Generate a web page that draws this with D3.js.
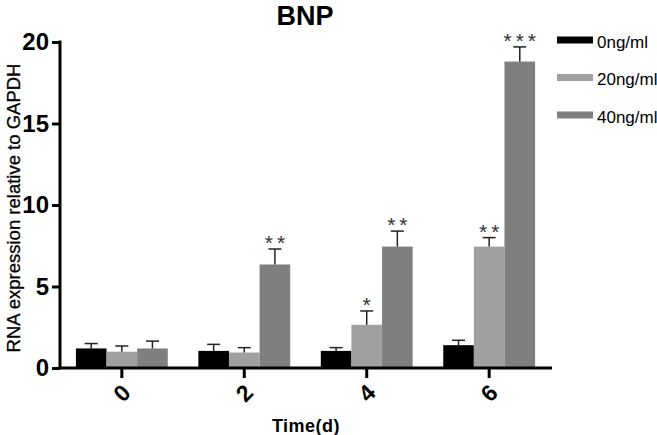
<!DOCTYPE html>
<html>
<head>
<meta charset="utf-8">
<script src="https://cdn.jsdelivr.net/npm/d3@7"></script>
<style>
  body { margin: 0; background: #fff; }
  svg { display: block; font-family: "Liberation Sans", Arial, sans-serif; }
</style>
</head>
<body>
<div id="chart"></div>
<script>
// data
const days = ["0", "2", "4", "6"];
const doses = ["0ng/ml", "20ng/ml", "40ng/ml"];
const mean0 = [1.2, 1.05, 1.05, 1.4];
const mean20 = [1.0, 0.95, 2.65, 7.45];
const mean40 = [1.2, 6.35, 7.45, 18.8];
const err0 = [0.3, 0.4, 0.2, 0.3];
const err20 = [0.35, 0.3, 0.85, 0.55];
const err40 = [0.45, 0.95, 0.95, 0.9];
const stars40 = ["", "**", "**", "***"];
const stars20 = ["", "", "*", "**"];
const stars0 = ["", "", "", ""];
const yTicks = [0, 5, 10, 15, 20];
const colors = ["#000000", "#a0a0a0", "#7f7f7f"];

const width = 657, height = 435;
const svg = d3.select("#chart").append("svg")
    .attr("width", width)
    .attr("height", height);

const means = [mean0, mean20, mean40];
const errs = [err0, err20, err40];
const stars = [stars0, stars20, stars40];

const x = d3.scaleBand()
    .domain(days)
    .range([60, 551])
    .paddingInner(0.25)
    .paddingOuter(0.13);

const xs = d3.scaleBand()
    .domain(doses)
    .range([0, x.bandwidth()]);

const y = d3.scaleLinear()
    .domain([0, 20])
    .range([368, 42]);

// bars + error bars, one group per day
const groups = svg.selectAll(".day")
    .data(days)
    .enter().append("g")
    .attr("class", "day")
    .attr("transform", d => `translate(${x(d)},0)`);

doses.forEach((dose, s) => {
    groups.append("rect")
        .attr("x", xs(dose))
        .attr("y", (d, i) => y(means[s][i]))
        .attr("width", xs.bandwidth())
        .attr("height", (d, i) => y(0) - y(means[s][i]))
        .attr("fill", colors[s]);

    const cx = xs(dose) + xs.bandwidth() / 2;
    groups.append("line")
        .attr("x1", cx).attr("x2", cx)
        .attr("y1", (d, i) => y(means[s][i]))
        .attr("y2", (d, i) => y(means[s][i] + errs[s][i]))
        .attr("stroke", "#222")
        .attr("stroke-width", 1.5);
    groups.append("line")
        .attr("x1", cx - 6.5).attr("x2", cx + 6.5)
        .attr("y1", (d, i) => y(means[s][i] + errs[s][i]))
        .attr("y2", (d, i) => y(means[s][i] + errs[s][i]))
        .attr("stroke", "#222")
        .attr("stroke-width", 1.5);

    // significance stars
    groups.append("text")
        .attr("x", cx + 2)
        .attr("y", (d, i) => y(means[s][i] + errs[s][i]) + 1)
        .attr("text-anchor", "middle")
        .style("font-size", "21px")
        .style("letter-spacing", "4px")
        .attr("fill", "#333")
        .text((d, i) => stars[s][i]);
});

// y axis
svg.append("g")
    .attr("transform", "translate(60,0)")
    .call(d3.axisLeft(y).tickValues(yTicks).tickSize(8).tickPadding(3))
    .call(g => g.select(".domain").attr("stroke-width", 3).attr("d", `M0,${y(20) - 1.5}V${y(0)}`))
    .call(g => g.selectAll(".tick line").attr("stroke-width", 3))
    .call(g => g.selectAll(".tick text")
        .style("font-size", "24px").style("font-weight", "bold").attr("fill", "#000"));

// x axis
svg.append("g")
    .attr("transform", `translate(0,${y(0)})`)
    .call(d3.axisBottom(x).tickSize(10).tickSizeOuter(0))
    .call(g => g.select(".domain").attr("stroke-width", 3).attr("d", `M58.5,0H552`))
    .call(g => g.selectAll(".tick line").attr("stroke-width", 3))
    .call(g => g.selectAll(".tick text").remove());

svg.append("g").selectAll("text")
    .data(days)
    .enter().append("text")
    .attr("transform", d => `translate(${x(d) + x.bandwidth() / 2},${y(0) + 25}) rotate(-45)`)
    .attr("text-anchor", "middle")
    .attr("dy", "0.35em")
    .style("font-size", "23px")
    .style("font-weight", "bold")
    .text(d => d);

// titles
svg.append("text")
    .attr("x", 305).attr("y", 25)
    .attr("text-anchor", "middle")
    .style("font-size", "27px").style("font-weight", "bold")
    .text("BNP");

svg.append("text")
    .attr("x", 306).attr("y", 432)
    .attr("text-anchor", "middle")
    .style("font-size", "18px").style("font-weight", "bold")
    .style("letter-spacing", "0.5px")
    .text("Time(d)");

svg.append("text")
    .attr("transform", "translate(20,208) rotate(-90)")
    .attr("text-anchor", "middle")
    .style("font-size", "18.5px")
    .attr("stroke", "#000").attr("stroke-width", 0.3)
    .text("RNA expression relative to GAPDH");

// legend
const legend = svg.append("g").attr("transform", "translate(557,0)");
doses.forEach((dose, i) => {
    const ly = 40 + i * 37.5;
    legend.append("rect")
        .attr("x", 0).attr("y", ly - 3.5)
        .attr("width", 36).attr("height", 7)
        .attr("fill", colors[i]);
    legend.append("text")
        .attr("x", 40).attr("y", ly + 2)
        .attr("dy", "0.35em")
        .style("font-size", "17px")
        .text(dose);
});
</script>
</body>
</html>
